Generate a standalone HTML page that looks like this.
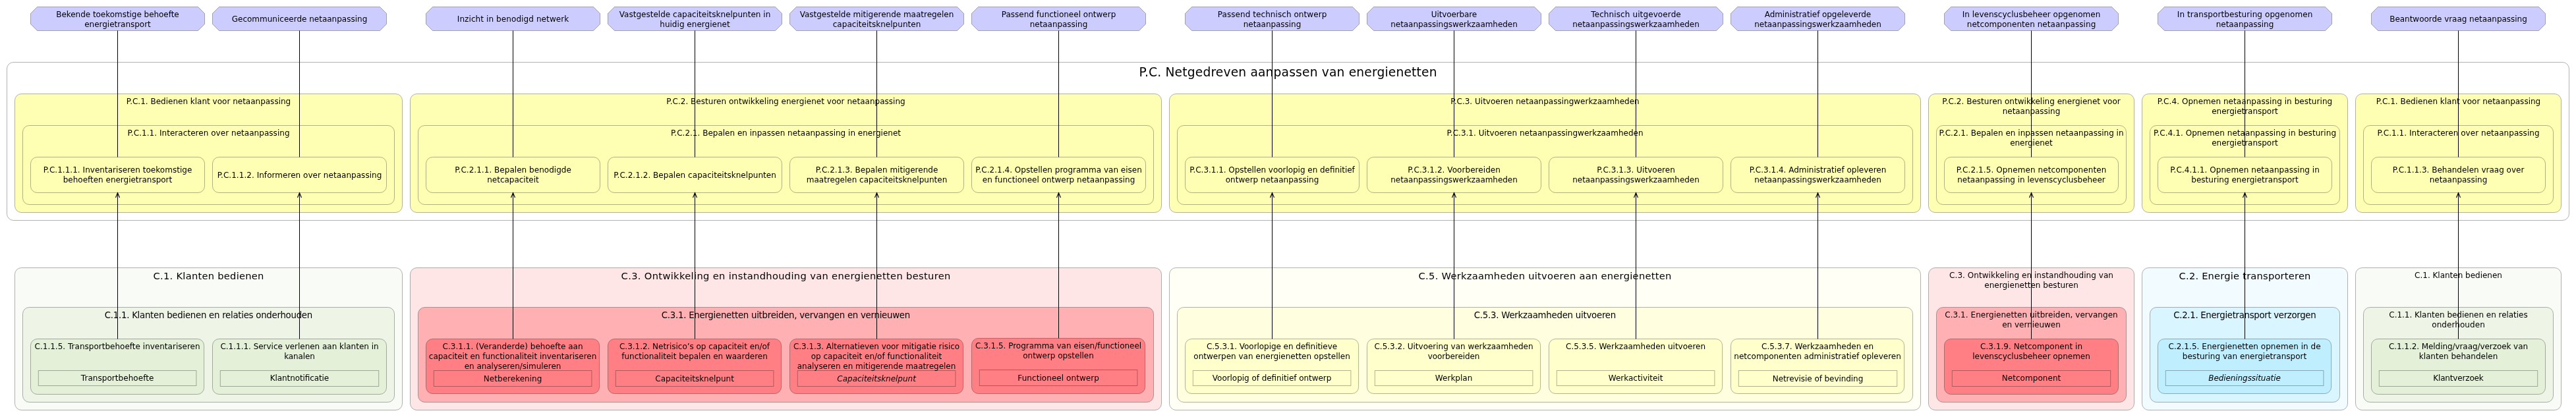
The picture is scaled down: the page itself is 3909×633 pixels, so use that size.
<!DOCTYPE html>
<html lang="nl"><head><meta charset="utf-8"><title>P.C. Netgedreven aanpassen van energienetten</title>
<style>html,body{margin:0;padding:0;background:#fff}svg{display:block;will-change:transform}</style></head>
<body>
<svg width="3909" height="633" viewBox="0 0 3909 633" font-family="'DejaVu Sans','Liberation Sans',sans-serif" text-anchor="middle" fill="#000">
<polygon points="56.5,10.5 300.5,10.5 310.5,20.5 310.5,36.5 300.5,46.5 56.5,46.5 46.5,36.5 46.5,20.5" fill="#ccccff" stroke="#000" stroke-opacity="0.3"/>
<text x="178.5" y="26" font-size="12" textLength="186.5">Bekende toekomstige behoefte</text>
<text x="178.5" y="41" font-size="12" textLength="100.5">energietransport</text>
<polygon points="332.5,10.5 576.5,10.5 586.5,20.5 586.5,36.5 576.5,46.5 332.5,46.5 322.5,36.5 322.5,20.5" fill="#ccccff" stroke="#000" stroke-opacity="0.3"/>
<text x="454.5" y="33" font-size="12" textLength="205.5">Gecommuniceerde netaanpassing</text>
<polygon points="656.5,10.5 900.5,10.5 910.5,20.5 910.5,36.5 900.5,46.5 656.5,46.5 646.5,36.5 646.5,20.5" fill="#ccccff" stroke="#000" stroke-opacity="0.3"/>
<text x="778.5" y="33" font-size="12" textLength="169.5">Inzicht in benodigd netwerk</text>
<polygon points="932.5,10.5 1176.5,10.5 1186.5,20.5 1186.5,36.5 1176.5,46.5 932.5,46.5 922.5,36.5 922.5,20.5" fill="#ccccff" stroke="#000" stroke-opacity="0.3"/>
<text x="1054.5" y="26" font-size="12" textLength="229.5">Vastgestelde capaciteitsknelpunten in</text>
<text x="1054.5" y="41" font-size="12" textLength="106.5">huidig energienet</text>
<polygon points="1208.5,10.5 1452.5,10.5 1462.5,20.5 1462.5,36.5 1452.5,46.5 1208.5,46.5 1198.5,36.5 1198.5,20.5" fill="#ccccff" stroke="#000" stroke-opacity="0.3"/>
<text x="1330.5" y="26" font-size="12" textLength="233.5">Vastgestelde mitigerende maatregelen</text>
<text x="1330.5" y="41" font-size="12" textLength="133.5">capaciteitsknelpunten</text>
<polygon points="1484.5,10.5 1728.5,10.5 1738.5,20.5 1738.5,36.5 1728.5,46.5 1484.5,46.5 1474.5,36.5 1474.5,20.5" fill="#ccccff" stroke="#000" stroke-opacity="0.3"/>
<text x="1606.5" y="26" font-size="12" textLength="173.5">Passend functioneel ontwerp</text>
<text x="1606.5" y="41" font-size="12" textLength="87.5">netaanpassing</text>
<polygon points="1808.5,10.5 2052.5,10.5 2062.5,20.5 2062.5,36.5 2052.5,46.5 1808.5,46.5 1798.5,36.5 1798.5,20.5" fill="#ccccff" stroke="#000" stroke-opacity="0.3"/>
<text x="1930.5" y="26" font-size="12" textLength="165.5">Passend technisch ontwerp</text>
<text x="1930.5" y="41" font-size="12" textLength="87.5">netaanpassing</text>
<polygon points="2084.5,10.5 2328.5,10.5 2338.5,20.5 2338.5,36.5 2328.5,46.5 2084.5,46.5 2074.5,36.5 2074.5,20.5" fill="#ccccff" stroke="#000" stroke-opacity="0.3"/>
<text x="2206.5" y="26" font-size="12" textLength="69.5">Uitvoerbare</text>
<text x="2206.5" y="41" font-size="12" textLength="192.5">netaanpassingswerkzaamheden</text>
<polygon points="2360.5,10.5 2604.5,10.5 2614.5,20.5 2614.5,36.5 2604.5,46.5 2360.5,46.5 2350.5,36.5 2350.5,20.5" fill="#ccccff" stroke="#000" stroke-opacity="0.3"/>
<text x="2482.5" y="26" font-size="12" textLength="136.5">Technisch uitgevoerde</text>
<text x="2482.5" y="41" font-size="12" textLength="192.5">netaanpassingswerkzaamheden</text>
<polygon points="2636.5,10.5 2880.5,10.5 2890.5,20.5 2890.5,36.5 2880.5,46.5 2636.5,46.5 2626.5,36.5 2626.5,20.5" fill="#ccccff" stroke="#000" stroke-opacity="0.3"/>
<text x="2758.5" y="26" font-size="12" textLength="161.5">Administratief opgeleverde</text>
<text x="2758.5" y="41" font-size="12" textLength="192.5">netaanpassingswerkzaamheden</text>
<polygon points="2960.5,10.5 3204.5,10.5 3214.5,20.5 3214.5,36.5 3204.5,46.5 2960.5,46.5 2950.5,36.5 2950.5,20.5" fill="#ccccff" stroke="#000" stroke-opacity="0.3"/>
<text x="3082.5" y="26" font-size="12" textLength="209.5">In levenscyclusbeheer opgenomen</text>
<text x="3082.5" y="41" font-size="12" textLength="195.5">netcomponenten netaanpassing</text>
<polygon points="3284.5,10.5 3528.5,10.5 3538.5,20.5 3538.5,36.5 3528.5,46.5 3284.5,46.5 3274.5,36.5 3274.5,20.5" fill="#ccccff" stroke="#000" stroke-opacity="0.3"/>
<text x="3406.5" y="26" font-size="12" textLength="205.5">In transportbesturing opgenomen</text>
<text x="3406.5" y="41" font-size="12" textLength="87.5">netaanpassing</text>
<polygon points="3608.5,10.5 3852.5,10.5 3862.5,20.5 3862.5,36.5 3852.5,46.5 3608.5,46.5 3598.5,36.5 3598.5,20.5" fill="#ccccff" stroke="#000" stroke-opacity="0.3"/>
<text x="3730.5" y="33" font-size="12" textLength="208.5">Beantwoorde vraag netaanpassing</text>
<rect x="10.5" y="94.5" width="3888.0" height="240.0" rx="10" fill="#ffffff" stroke="#000" stroke-opacity="0.3" />
<text x="1954.5" y="116" font-size="18.67" textLength="452">P.C. Netgedreven aanpassen van energienetten</text>
<rect x="22.5" y="142.5" width="588.0" height="180.0" rx="10" fill="#ffffb3" stroke="#000" stroke-opacity="0.3" />
<text x="316.5" y="158" font-size="12" textLength="249.4">P.C.1. Bedienen klant voor netaanpassing</text>
<rect x="34.5" y="190.5" width="564.0" height="120.0" rx="10" fill="#ffffb3" stroke="#000" stroke-opacity="0.3" />
<text x="316.5" y="206" font-size="12" textLength="246.1">P.C.1.1. Interacteren over netaanpassing</text>
<rect x="622.5" y="142.5" width="1140.0" height="180.0" rx="10" fill="#ffffb3" stroke="#000" stroke-opacity="0.3" />
<text x="1192.5" y="158" font-size="12" textLength="362.4">P.C.2. Besturen ontwikkeling energienet voor netaanpassing</text>
<rect x="634.5" y="190.5" width="1116.0" height="120.0" rx="10" fill="#ffffb3" stroke="#000" stroke-opacity="0.3" />
<text x="1192.5" y="206" font-size="12" textLength="349.1">P.C.2.1. Bepalen en inpassen netaanpassing in energienet</text>
<rect x="1774.5" y="142.5" width="1140.0" height="180.0" rx="10" fill="#ffffb3" stroke="#000" stroke-opacity="0.3" />
<text x="2344.5" y="158" font-size="12" textLength="286.4">P.C.3. Uitvoeren netaanpassingwerkzaamheden</text>
<rect x="1786.5" y="190.5" width="1116.0" height="120.0" rx="10" fill="#ffffb3" stroke="#000" stroke-opacity="0.3" />
<text x="2344.5" y="206" font-size="12" textLength="298.1">P.C.3.1. Uitvoeren netaanpassingwerkzaamheden</text>
<rect x="2926.5" y="142.5" width="312.0" height="180.0" rx="10" fill="#ffffb3" stroke="#000" stroke-opacity="0.3" />
<text x="3082.5" y="158" font-size="12" textLength="270.4">P.C.2. Besturen ontwikkeling energienet voor</text>
<text x="3082.5" y="173" font-size="12" textLength="87.5">netaanpassing</text>
<rect x="2938.5" y="190.5" width="288.0" height="120.0" rx="10" fill="#ffffb3" stroke="#000" stroke-opacity="0.3" />
<text x="3082.5" y="206" font-size="12" textLength="280.1">P.C.2.1. Bepalen en inpassen netaanpassing in</text>
<text x="3082.5" y="221" font-size="12" textLength="64.5">energienet</text>
<rect x="3250.5" y="142.5" width="312.0" height="180.0" rx="10" fill="#ffffb3" stroke="#000" stroke-opacity="0.3" />
<text x="3406.5" y="158" font-size="12" textLength="265.4">P.C.4. Opnemen netaanpassing in besturing</text>
<text x="3406.5" y="173" font-size="12" textLength="100.5">energietransport</text>
<rect x="3262.5" y="190.5" width="288.0" height="120.0" rx="10" fill="#ffffb3" stroke="#000" stroke-opacity="0.3" />
<text x="3406.5" y="206" font-size="12" textLength="277.1">P.C.4.1. Opnemen netaanpassing in besturing</text>
<text x="3406.5" y="221" font-size="12" textLength="100.5">energietransport</text>
<rect x="3574.5" y="142.5" width="312.0" height="180.0" rx="10" fill="#ffffb3" stroke="#000" stroke-opacity="0.3" />
<text x="3730.5" y="158" font-size="12" textLength="249.4">P.C.1. Bedienen klant voor netaanpassing</text>
<rect x="3586.5" y="190.5" width="288.0" height="120.0" rx="10" fill="#ffffb3" stroke="#000" stroke-opacity="0.3" />
<text x="3730.5" y="206" font-size="12" textLength="246.1">P.C.1.1. Interacteren over netaanpassing</text>
<rect x="46.5" y="238.5" width="264.0" height="54.0" rx="10" fill="#ffffb3" stroke="#000" stroke-opacity="0.3" />
<text x="178.5" y="261.7" font-size="12" textLength="225.7">P.C.1.1.1. Inventariseren toekomstige</text>
<text x="178.5" y="276.7" font-size="12" textLength="165.5">behoeften energietransport</text>
<rect x="322.5" y="238.5" width="264.0" height="54.0" rx="10" fill="#ffffb3" stroke="#000" stroke-opacity="0.3" />
<text x="454.5" y="269.6" font-size="12" textLength="249.7">P.C.1.1.2. Informeren over netaanpassing</text>
<rect x="646.5" y="238.5" width="264.0" height="54.0" rx="10" fill="#ffffb3" stroke="#000" stroke-opacity="0.3" />
<text x="778.5" y="261.7" font-size="12" textLength="176.7">P.C.2.1.1. Bepalen benodigde</text>
<text x="778.5" y="276.7" font-size="12" textLength="78.5">netcapaciteit</text>
<rect x="922.5" y="238.5" width="264.0" height="54.0" rx="10" fill="#ffffb3" stroke="#000" stroke-opacity="0.3" />
<text x="1054.5" y="269.6" font-size="12" textLength="246.7">P.C.2.1.2. Bepalen capaciteitsknelpunten</text>
<rect x="1198.5" y="238.5" width="264.0" height="54.0" rx="10" fill="#ffffb3" stroke="#000" stroke-opacity="0.3" />
<text x="1330.5" y="261.7" font-size="12" textLength="185.7">P.C.2.1.3. Bepalen mitigerende</text>
<text x="1330.5" y="276.7" font-size="12" textLength="213.5">maatregelen capaciteitsknelpunten</text>
<rect x="1474.5" y="238.5" width="264.0" height="54.0" rx="10" fill="#ffffb3" stroke="#000" stroke-opacity="0.3" />
<text x="1606.5" y="261.7" font-size="12" textLength="252.7">P.C.2.1.4. Opstellen programma van eisen</text>
<text x="1606.5" y="276.7" font-size="12" textLength="231.5">en functioneel ontwerp netaanpassing</text>
<rect x="1798.5" y="238.5" width="264.0" height="54.0" rx="10" fill="#ffffb3" stroke="#000" stroke-opacity="0.3" />
<text x="1930.5" y="261.7" font-size="12" textLength="250.7">P.C.3.1.1. Opstellen voorlopig en definitief</text>
<text x="1930.5" y="276.7" font-size="12" textLength="141.5">ontwerp netaanpassing</text>
<rect x="2074.5" y="238.5" width="264.0" height="54.0" rx="10" fill="#ffffb3" stroke="#000" stroke-opacity="0.3" />
<text x="2206.5" y="261.7" font-size="12" textLength="140.7">P.C.3.1.2. Voorbereiden</text>
<text x="2206.5" y="276.7" font-size="12" textLength="192.5">netaanpassingswerkzaamheden</text>
<rect x="2350.5" y="238.5" width="264.0" height="54.0" rx="10" fill="#ffffb3" stroke="#000" stroke-opacity="0.3" />
<text x="2482.5" y="261.7" font-size="12" textLength="118.7">P.C.3.1.3. Uitvoeren</text>
<text x="2482.5" y="276.7" font-size="12" textLength="192.5">netaanpassingswerkzaamheden</text>
<rect x="2626.5" y="238.5" width="264.0" height="54.0" rx="10" fill="#ffffb3" stroke="#000" stroke-opacity="0.3" />
<text x="2758.5" y="261.7" font-size="12" textLength="207.7">P.C.3.1.4. Administratief opleveren</text>
<text x="2758.5" y="276.7" font-size="12" textLength="192.5">netaanpassingswerkzaamheden</text>
<rect x="2950.5" y="238.5" width="264.0" height="54.0" rx="10" fill="#ffffb3" stroke="#000" stroke-opacity="0.3" />
<text x="3082.5" y="261.7" font-size="12" textLength="227.7">P.C.2.1.5. Opnemen netcomponenten</text>
<text x="3082.5" y="276.7" font-size="12" textLength="224.5">netaanpassing in levenscyclusbeheer</text>
<rect x="3274.5" y="238.5" width="264.0" height="54.0" rx="10" fill="#ffffb3" stroke="#000" stroke-opacity="0.3" />
<text x="3406.5" y="261.7" font-size="12" textLength="226.7">P.C.4.1.1. Opnemen netaanpassing in</text>
<text x="3406.5" y="276.7" font-size="12" textLength="162.5">besturing energietransport</text>
<rect x="3598.5" y="238.5" width="264.0" height="54.0" rx="10" fill="#ffffb3" stroke="#000" stroke-opacity="0.3" />
<text x="3730.5" y="261.7" font-size="12" textLength="199.7">P.C.1.1.3. Behandelen vraag over</text>
<text x="3730.5" y="276.7" font-size="12" textLength="87.5">netaanpassing</text>
<rect x="22.5" y="406.5" width="588.0" height="216.0" rx="10" fill="#f9fbf6" stroke="#000" stroke-opacity="0.3" />
<text x="316.5" y="424" font-size="14.67" textLength="167.8">C.1. Klanten bedienen</text>
<rect x="34.5" y="466.5" width="564.0" height="144.0" rx="10" fill="#eff5e6" stroke="#000" stroke-opacity="0.3" />
<text x="316.5" y="482.5" font-size="13.33" textLength="315.4">C.1.1. Klanten bedienen en relaties onderhouden</text>
<rect x="46.5" y="514.5" width="263.1" height="84.0" rx="10" fill="#e4f0d8" stroke="#000" stroke-opacity="0.3" />
<text x="178.05" y="530" font-size="12" textLength="251.1">C.1.1.5. Transportbehoefte inventariseren</text>
<rect x="58.3" y="562.5" width="239.59999999999997" height="23.0" fill="none" stroke="#000" stroke-opacity="0.3"/>
<text x="178.1" y="578" font-size="12" textLength="110.5">Transportbehoefte</text>
<rect x="322.5" y="514.5" width="264.0" height="84.0" rx="10" fill="#e4f0d8" stroke="#000" stroke-opacity="0.3" />
<text x="454.5" y="530" font-size="12" textLength="240.1">C.1.1.1. Service verlenen aan klanten in</text>
<text x="454.5" y="545" font-size="12" textLength="46.5">kanalen</text>
<rect x="334.3" y="562.5" width="240.40000000000003" height="24.0" fill="none" stroke="#000" stroke-opacity="0.3"/>
<text x="454.5" y="578" font-size="12" textLength="89.5">Klantnotificatie</text>
<rect x="622.5" y="406.5" width="1140.0" height="216.0" rx="10" fill="#ffe6e6" stroke="#000" stroke-opacity="0.3" />
<text x="1192.5" y="424" font-size="14.67" textLength="499.8">C.3. Ontwikkeling en instandhouding van energienetten besturen</text>
<rect x="634.5" y="466.5" width="1116.0" height="144.0" rx="10" fill="#ffb0b3" stroke="#000" stroke-opacity="0.3" />
<text x="1192.5" y="482.5" font-size="13.33" textLength="377.4">C.3.1. Energienetten uitbreiden, vervangen en vernieuwen</text>
<rect x="646.5" y="514.5" width="263.1" height="83.0" rx="10" fill="#ff7f84" stroke="#000" stroke-opacity="0.3" />
<text x="778.05" y="530" font-size="12" textLength="213.1">C.3.1.1. (Veranderde) behoefte aan</text>
<text x="778.05" y="545" font-size="12" textLength="254.5">capaciteit en functionaliteit inventariseren</text>
<text x="778.05" y="560" font-size="12" textLength="146.5">en analyseren/simuleren</text>
<rect x="658.3" y="562.5" width="239.60000000000002" height="24.0" fill="none" stroke="#000" stroke-opacity="0.3"/>
<text x="778.0999999999999" y="578.5" font-size="12" textLength="88.5">Netberekening</text>
<rect x="922.5" y="514.5" width="263.1" height="83.0" rx="10" fill="#ff7f84" stroke="#000" stroke-opacity="0.3" />
<text x="1054.05" y="530" font-size="12" textLength="228.1">C.3.1.2. Netrisico’s op capaciteit en/of</text>
<text x="1054.05" y="545" font-size="12" textLength="221.5">functionaliteit bepalen en waarderen</text>
<rect x="934.3" y="562.5" width="239.60000000000014" height="24.0" fill="none" stroke="#000" stroke-opacity="0.3"/>
<text x="1054.1" y="578.5" font-size="12" textLength="119.5">Capaciteitsknelpunt</text>
<rect x="1198.5" y="514.5" width="263.1" height="83.0" rx="10" fill="#ff7f84" stroke="#000" stroke-opacity="0.3" />
<text x="1330.05" y="530" font-size="12" textLength="252.1">C.3.1.3. Alternatieven voor mitigatie risico</text>
<text x="1330.05" y="545" font-size="12" textLength="198.5">op capaciteit en/of functionaliteit</text>
<text x="1330.05" y="560" font-size="12" textLength="240.5">analyseren en mitigerende maatregelen</text>
<rect x="1210.3" y="562.5" width="239.60000000000014" height="24.0" fill="none" stroke="#000" stroke-opacity="0.3"/>
<text x="1330.1" y="578.5" font-size="12" font-style="italic" textLength="119.5">Capaciteitsknelpunt</text>
<rect x="1474.5" y="513.5" width="263.1" height="84.0" rx="10" fill="#ff7f84" stroke="#000" stroke-opacity="0.3" />
<text x="1606.05" y="529" font-size="12" textLength="252.1">C.3.1.5. Programma van eisen/functioneel</text>
<text x="1606.05" y="544" font-size="12" textLength="107.5">ontwerp opstellen</text>
<rect x="1486.3" y="561.5" width="239.60000000000014" height="24.0" fill="none" stroke="#000" stroke-opacity="0.3"/>
<text x="1606.1" y="577.5" font-size="12" textLength="123.5">Functioneel ontwerp</text>
<rect x="1774.5" y="406.5" width="1140.0" height="216.0" rx="10" fill="#fffff5" stroke="#000" stroke-opacity="0.3" />
<text x="2344.5" y="424" font-size="14.67" textLength="383.8">C.5. Werkzaamheden uitvoeren aan energienetten</text>
<rect x="1786.5" y="466.5" width="1116.0" height="144.0" rx="10" fill="#ffffe0" stroke="#000" stroke-opacity="0.3" />
<text x="2344.5" y="482.5" font-size="13.33" textLength="215.4">C.5.3. Werkzaamheden uitvoeren</text>
<rect x="1798.5" y="514.5" width="263.1" height="83.0" rx="10" fill="#ffffcc" stroke="#000" stroke-opacity="0.3" />
<text x="1930.05" y="530" font-size="12" textLength="198.1">C.5.3.1. Voorlopige en definitieve</text>
<text x="1930.05" y="545" font-size="12" textLength="237.5">ontwerpen van energienetten opstellen</text>
<rect x="1810.3" y="562.5" width="239.60000000000014" height="23.0" fill="none" stroke="#000" stroke-opacity="0.3"/>
<text x="1930.1" y="578" font-size="12" textLength="180.5">Voorlopig of definitief ontwerp</text>
<rect x="2074.5" y="514.5" width="263.1" height="83.0" rx="10" fill="#ffffcc" stroke="#000" stroke-opacity="0.3" />
<text x="2206.05" y="530" font-size="12" textLength="241.1">C.5.3.2. Uitvoering van werkzaamheden</text>
<text x="2206.05" y="545" font-size="12" textLength="78.5">voorbereiden</text>
<rect x="2086.3" y="562.5" width="239.5999999999999" height="23.0" fill="none" stroke="#000" stroke-opacity="0.3"/>
<text x="2206.1000000000004" y="578" font-size="12" textLength="56.5">Werkplan</text>
<rect x="2350.5" y="514.5" width="263.1" height="83.0" rx="10" fill="#ffffcc" stroke="#000" stroke-opacity="0.3" />
<text x="2482.05" y="530" font-size="12" textLength="212.1">C.5.3.5. Werkzaamheden uitvoeren</text>
<rect x="2362.3" y="562.5" width="239.5999999999999" height="23.0" fill="none" stroke="#000" stroke-opacity="0.3"/>
<text x="2482.1000000000004" y="578" font-size="12" textLength="82.5">Werkactiviteit</text>
<rect x="2626.5" y="514.5" width="263.1" height="83.0" rx="10" fill="#ffffcc" stroke="#000" stroke-opacity="0.3" />
<text x="2758.05" y="530" font-size="12" textLength="170.1">C.5.3.7. Werkzaamheden en</text>
<text x="2758.05" y="545" font-size="12" textLength="253.5">netcomponenten administratief opleveren</text>
<rect x="2638.3" y="562.5" width="240.39999999999964" height="24.0" fill="none" stroke="#000" stroke-opacity="0.3"/>
<text x="2758.5" y="578.5" font-size="12" textLength="137.5">Netrevisie of bevinding</text>
<rect x="2926.5" y="406.5" width="312.0" height="216.0" rx="10" fill="#ffe6e6" stroke="#000" stroke-opacity="0.3" />
<text x="3082.5" y="422" font-size="12" textLength="248.8">C.3. Ontwikkeling en instandhouding van</text>
<text x="3082.5" y="437" font-size="12" textLength="142.5">energienetten besturen</text>
<rect x="2938.5" y="466.5" width="288.0" height="144.0" rx="10" fill="#ffb0b3" stroke="#000" stroke-opacity="0.3" />
<text x="3082.5" y="482" font-size="12" textLength="262.4">C.3.1. Energienetten uitbreiden, vervangen</text>
<text x="3082.5" y="497" font-size="12" textLength="88.5">en vernieuwen</text>
<rect x="2950.5" y="514.5" width="264.0" height="84.0" rx="10" fill="#ff7f84" stroke="#000" stroke-opacity="0.3" />
<text x="3082.5" y="530" font-size="12" textLength="155.1">C.3.1.9. Netcomponent in</text>
<text x="3082.5" y="545" font-size="12" textLength="178.5">levenscyclusbeheer opnemen</text>
<rect x="2962.3" y="562.5" width="240.39999999999964" height="24.0" fill="none" stroke="#000" stroke-opacity="0.3"/>
<text x="3082.5" y="578" font-size="12" textLength="89.5">Netcomponent</text>
<rect x="3250.5" y="406.5" width="312.0" height="216.0" rx="10" fill="#f2fbff" stroke="#000" stroke-opacity="0.3" />
<text x="3406.5" y="424" font-size="14.67" textLength="199.8">C.2. Energie transporteren</text>
<rect x="3262.5" y="466.5" width="288.0" height="144.0" rx="10" fill="#d9f5ff" stroke="#000" stroke-opacity="0.3" />
<text x="3406.5" y="482.5" font-size="13.33" textLength="216.4">C.2.1. Energietransport verzorgen</text>
<rect x="3274.5" y="514.5" width="263.1" height="83.0" rx="10" fill="#bfefff" stroke="#000" stroke-opacity="0.3" />
<text x="3406.05" y="530" font-size="12" textLength="231.1">C.2.1.5. Energienetten opnemen in de</text>
<text x="3406.05" y="545" font-size="12" textLength="188.5">besturing van energietransport</text>
<rect x="3286.3" y="562.5" width="239.5999999999999" height="23.0" fill="none" stroke="#000" stroke-opacity="0.3"/>
<text x="3406.1000000000004" y="578" font-size="12" font-style="italic" textLength="109.5">Bedieningssituatie</text>
<rect x="3574.5" y="406.5" width="312.0" height="216.0" rx="10" fill="#f9fbf6" stroke="#000" stroke-opacity="0.3" />
<text x="3730.5" y="422" font-size="12" textLength="132.8">C.1. Klanten bedienen</text>
<rect x="3586.5" y="466.5" width="288.0" height="144.0" rx="10" fill="#eff5e6" stroke="#000" stroke-opacity="0.3" />
<text x="3730.5" y="482" font-size="12" textLength="210.4">C.1.1. Klanten bedienen en relaties</text>
<text x="3730.5" y="497" font-size="12" textLength="80.5">onderhouden</text>
<rect x="3598.5" y="514.5" width="264.0" height="84.0" rx="10" fill="#e4f0d8" stroke="#000" stroke-opacity="0.3" />
<text x="3730.5" y="530" font-size="12" textLength="211.1">C.1.1.2. Melding/vraag/verzoek van</text>
<text x="3730.5" y="545" font-size="12" textLength="119.5">klanten behandelen</text>
<rect x="3610.3" y="562.5" width="240.39999999999964" height="24.0" fill="none" stroke="#000" stroke-opacity="0.3"/>
<text x="3730.5" y="578" font-size="12" textLength="76.5">Klantverzoek</text>
<path d="M178.5,46.5V238.5" stroke="#000" fill="none"/>
<path d="M178.5,514.5V292.5" stroke="#000" fill="none"/>
<path d="M175.5,300L178.5,292.8L181.5,300" stroke="#000" stroke-width="1.15" fill="none"/>
<path d="M454.5,46.5V238.5" stroke="#000" fill="none"/>
<path d="M454.5,514.5V292.5" stroke="#000" fill="none"/>
<path d="M451.5,300L454.5,292.8L457.5,300" stroke="#000" stroke-width="1.15" fill="none"/>
<path d="M778.5,46.5V238.5" stroke="#000" fill="none"/>
<path d="M778.5,514.5V292.5" stroke="#000" fill="none"/>
<path d="M775.5,300L778.5,292.8L781.5,300" stroke="#000" stroke-width="1.15" fill="none"/>
<path d="M1054.5,46.5V238.5" stroke="#000" fill="none"/>
<path d="M1054.5,514.5V292.5" stroke="#000" fill="none"/>
<path d="M1051.5,300L1054.5,292.8L1057.5,300" stroke="#000" stroke-width="1.15" fill="none"/>
<path d="M1330.5,46.5V238.5" stroke="#000" fill="none"/>
<path d="M1330.5,514.5V292.5" stroke="#000" fill="none"/>
<path d="M1327.5,300L1330.5,292.8L1333.5,300" stroke="#000" stroke-width="1.15" fill="none"/>
<path d="M1606.5,46.5V238.5" stroke="#000" fill="none"/>
<path d="M1606.5,513.5V292.5" stroke="#000" fill="none"/>
<path d="M1603.5,300L1606.5,292.8L1609.5,300" stroke="#000" stroke-width="1.15" fill="none"/>
<path d="M1930.5,46.5V238.5" stroke="#000" fill="none"/>
<path d="M1930.5,514.5V292.5" stroke="#000" fill="none"/>
<path d="M1927.5,300L1930.5,292.8L1933.5,300" stroke="#000" stroke-width="1.15" fill="none"/>
<path d="M2206.5,46.5V238.5" stroke="#000" fill="none"/>
<path d="M2206.5,514.5V292.5" stroke="#000" fill="none"/>
<path d="M2203.5,300L2206.5,292.8L2209.5,300" stroke="#000" stroke-width="1.15" fill="none"/>
<path d="M2482.5,46.5V238.5" stroke="#000" fill="none"/>
<path d="M2482.5,514.5V292.5" stroke="#000" fill="none"/>
<path d="M2479.5,300L2482.5,292.8L2485.5,300" stroke="#000" stroke-width="1.15" fill="none"/>
<path d="M2758.5,46.5V238.5" stroke="#000" fill="none"/>
<path d="M2758.5,514.5V292.5" stroke="#000" fill="none"/>
<path d="M2755.5,300L2758.5,292.8L2761.5,300" stroke="#000" stroke-width="1.15" fill="none"/>
<path d="M3082.5,46.5V238.5" stroke="#000" fill="none"/>
<path d="M3082.5,514.5V292.5" stroke="#000" fill="none"/>
<path d="M3079.5,300L3082.5,292.8L3085.5,300" stroke="#000" stroke-width="1.15" fill="none"/>
<path d="M3406.5,46.5V238.5" stroke="#000" fill="none"/>
<path d="M3406.5,514.5V292.5" stroke="#000" fill="none"/>
<path d="M3403.5,300L3406.5,292.8L3409.5,300" stroke="#000" stroke-width="1.15" fill="none"/>
<path d="M3730.5,46.5V238.5" stroke="#000" fill="none"/>
<path d="M3730.5,514.5V292.5" stroke="#000" fill="none"/>
<path d="M3727.5,300L3730.5,292.8L3733.5,300" stroke="#000" stroke-width="1.15" fill="none"/>
</svg>
</body></html>
